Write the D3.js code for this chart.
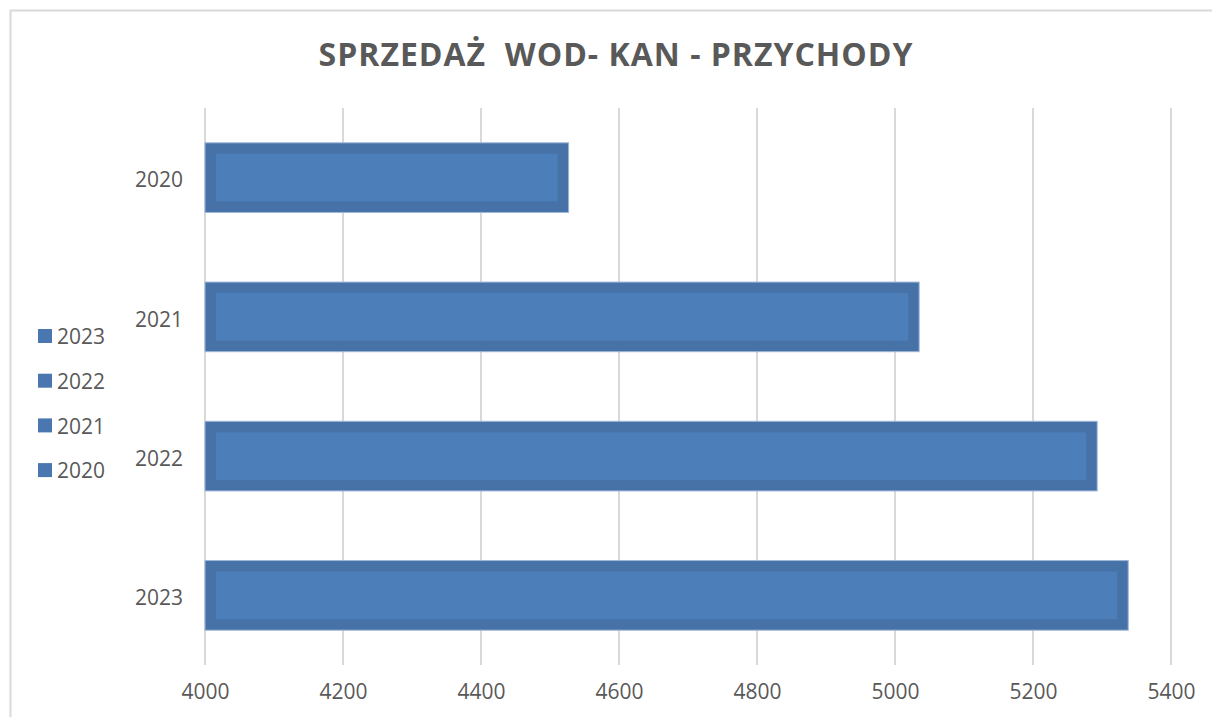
<!DOCTYPE html>
<html>
<head>
<meta charset="utf-8">
<script src="https://cdn.jsdelivr.net/npm/d3@7"></script>
<style>
  body { margin: 0; background: #fff; }
  text { font-family: "Open Sans", "Liberation Sans", sans-serif; fill: #595959; }
</style>
</head>
<body>
<div id="chart"></div>
<script>
// data
var years = ["2020", "2021", "2022", "2023"];
var values = [4527, 5035, 5293, 5338];
var xTicks = [4000, 4200, 4400, 4600, 4800, 5000, 5200, 5400];
var legendYears = ["2023", "2022", "2021", "2020"];

var svgWidth = 1212;
var svgHeight = 717;

var plot = { left: 205, right: 1171, top: 108, bottom: 665 };

var svg = d3.select("#chart")
  .append("svg")
  .attr("width", svgWidth)
  .attr("height", svgHeight);

// chart frame
svg.append("path")
  .attr("d", `M10.5,${svgHeight} V10.5 H${svgWidth}`)
  .attr("fill", "none")
  .attr("stroke", "#d9d9d9")
  .attr("stroke-width", 2);

// title
svg.append("text")
  .attr("x", 616)
  .attr("y", 66)
  .attr("text-anchor", "middle")
  .style("font-size", "32px")
  .style("font-weight", "bold")
  .style("letter-spacing", "1px")
  .style("white-space", "pre")
  .attr("xml:space", "preserve")
  .text("SPRZEDAŻ  WOD- KAN - PRZYCHODY");

var x = d3.scaleLinear()
  .domain([4000, 5400])
  .range([plot.left, plot.right]);

var y = d3.scaleBand()
  .domain(years)
  .range([plot.top, plot.bottom])
  .paddingInner(0.5)
  .paddingOuter(0.25);

// vertical gridlines
svg.append("g")
  .selectAll("line")
  .data(xTicks)
  .enter()
  .append("line")
  .attr("x1", d => x(d))
  .attr("x2", d => x(d))
  .attr("y1", plot.top)
  .attr("y2", plot.bottom)
  .attr("stroke", "#d9d9d9")
  .attr("stroke-width", 2);

// x axis labels
var bottomAxis = d3.axisBottom(x)
  .tickValues(xTicks)
  .tickFormat(d3.format("d"))
  .tickSize(0)
  .tickPadding(19);
var xAxis = svg.append("g")
  .attr("transform", `translate(0, ${plot.bottom})`)
  .call(bottomAxis);
xAxis.select(".domain").remove();
xAxis.selectAll("text").style("font-size", "21px").attr("fill", "#595959");

// y axis labels
var leftAxis = d3.axisLeft(y).tickSize(0).tickPadding(22);
var yAxis = svg.append("g")
  .attr("transform", `translate(${plot.left}, 3)`)
  .call(leftAxis);
yAxis.select(".domain").remove();
yAxis.selectAll("text").style("font-size", "21px").attr("fill", "#595959");

// bars: darker rim with a lighter inner fill
var bars = svg.append("g")
  .selectAll("g")
  .data(years)
  .enter()
  .append("g");

bars.append("rect")
  .attr("x", x(4000))
  .attr("y", d => y(d))
  .attr("width", (d, i) => x(values[i]) - x(4000))
  .attr("height", y.bandwidth())
  .attr("fill", "#4672a8")
  .attr("stroke", "#9fb6d6")
  .attr("stroke-width", 1);

bars.append("rect")
  .attr("x", x(4000) + 11)
  .attr("y", d => y(d) + 11)
  .attr("width", (d, i) => x(values[i]) - x(4000) - 22)
  .attr("height", y.bandwidth() - 22)
  .attr("fill", "#4c7eba");

// legend
var legend = svg.append("g")
  .selectAll("g")
  .data(legendYears)
  .enter()
  .append("g")
  .attr("transform", (d, i) => `translate(38, ${336 + i * 44.7})`);

legend.append("rect")
  .attr("x", 0)
  .attr("y", -7)
  .attr("width", 14)
  .attr("height", 14)
  .attr("fill", "#4a77b0");

legend.append("text")
  .attr("x", 19)
  .attr("y", 1)
  .attr("dy", "0.35em")
  .style("font-size", "21px")
  .text(d => d);
</script>
</body>
</html>
